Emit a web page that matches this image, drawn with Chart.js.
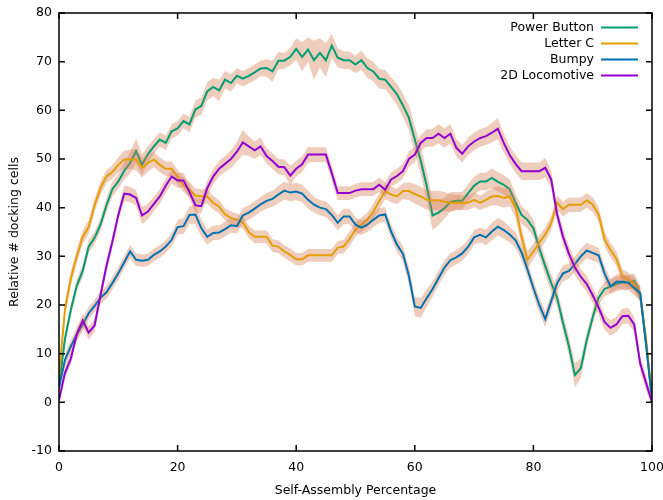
<!DOCTYPE html>
<html>
<head>
<meta charset="utf-8">
<script src="https://cdn.jsdelivr.net/npm/chart.js@4"></script>
<style>
  html, body { margin: 0; padding: 0; background: #fff; }
  #wrap { width: 663px; height: 500px; position: relative; }
</style>
</head>
<body>
<div id="wrap"><canvas id="chart"></canvas></div>
<script>
// x positions (self-assembly percentage)
const percent = [
  0, 1, 2, 3, 4, 5, 6, 7, 8, 9, 10, 11, 12, 13, 14, 15, 16, 17, 18, 19,
  20, 21, 22, 23, 24, 25, 26, 27, 28, 29, 30, 31, 32, 33, 34, 35, 36, 37, 38, 39,
  40, 41, 42, 43, 44, 45, 46, 47, 48, 49, 50, 51, 52, 53, 54, 55, 56, 57, 58, 59,
  60, 61, 62, 63, 64, 65, 66, 67, 68, 69, 70, 71, 72, 73, 74, 75, 76, 77, 78, 79,
  80, 81, 82, 83, 84, 85, 86, 87, 88, 89, 90, 91, 92, 93, 94, 95, 96, 97, 98, 99, 100
];

const powerButton = [
  3.5, 13, 19, 24, 27, 32, 33.8, 36.5, 40.5, 43.8,
  45.4, 47.6, 49.2, 51.6, 48.8, 51, 52.6, 54, 53.3, 55.7,
  56.3, 57.8, 57.1, 60.2, 60.9, 63.9, 64.8, 64.1, 66.3, 65.6,
  67.1, 66.5, 67.1, 67.8, 68.6, 68.7, 68, 70.2, 70.2, 71,
  72.6, 71, 72.5, 70.3, 71.8, 70.3, 73.3, 70.8, 70.3, 70.3,
  69.4, 70.3, 68.7, 68, 66.5, 66.3, 64.8, 63.3, 61, 58.5,
  54, 49.7, 44.5, 38.4, 39, 39.9, 41.2, 41.4, 41.4, 43,
  44.5, 45.4, 45.4, 46.1, 45.3, 44.7, 43.8, 41, 38.5, 37.5,
  35.8, 31.6, 28, 24.5, 21.5, 16.3, 11.5, 5.6, 7, 12.8,
  17.5, 21.5, 23.3, 23.8, 24.3, 24.6, 24.6, 25, 22.4, 12, 0.5
];
const powerButtonErr = [
  1.2, 1.3, 1.3, 1.3, 1.3, 1.3, 1.3, 1.3, 1.5, 1.5,
  1.5, 1.8, 2.2, 2.6, 2.2, 1.6, 1.5, 1.5, 1.5, 1.5,
  1.5, 1.5, 1.6, 1.8, 1.8, 1.9, 1.9, 2.2, 1.8, 1.8,
  1.6, 1.6, 1.6, 1.6, 1.6, 1.8, 2.2, 1.8, 1.6, 1.8,
  2.2, 3, 2.5, 4, 3, 3.5, 2.5, 2, 1.8, 1.8,
  1.8, 2, 2, 2, 2, 2, 2, 2.2, 2.4, 2.6,
  2.8, 3, 3, 3, 2.6, 2.2, 2, 1.8, 1.8, 1.8,
  1.8, 1.8, 1.8, 2, 2, 2, 2, 1.8, 1.8, 1.8,
  1.8, 1.8, 1.8, 1.8, 1.8, 1.8, 2, 2.5, 2, 1.6,
  1.5, 1.5, 1.5, 1.5, 1.5, 1.5, 1.5, 1.5, 1.5, 1.5, 1
];

const letterC = [
  5.5, 19, 25.5, 30, 34, 36, 40.5, 44, 46.4, 47.3,
  48.8, 49.9, 49.9, 49.9, 48.2, 49.2, 49.9, 48.8, 48, 48,
  46.3, 44.7, 43.7, 42.5, 42.3, 42.3, 41, 40.2, 38.6, 37.9,
  37.5, 37, 35, 34, 34, 34, 32.2, 32, 31, 30.3,
  29.4, 29.4, 30.2, 30.2, 30.2, 30.2, 30.2, 31.8, 32, 33.6,
  35.5, 36.5, 37.5, 39.2, 41.3, 43.4, 42.7, 42.3, 43.4, 43.4,
  42.8, 42.3, 41.6, 41.5, 41.5, 41.2, 41, 41, 41, 41,
  41.6, 41, 41.6, 42.3, 42.4, 42, 42.3, 40, 34, 29.3,
  31, 32.8, 34.5, 36.8, 41, 39.7, 40.6, 40.6, 40.6, 41.5,
  40.6, 38.6, 33.5, 31.3, 29.5, 25.9, 25.2, 24.2, 22, 13, 1
];
const letterCErr = [
  1.5, 1.5, 1.5, 1.4, 1.4, 1.4, 1.4, 1.4, 1.4, 1.4,
  1.5, 1.8, 2, 2.2, 2, 1.8, 1.6, 1.5, 1.5, 1.5,
  1.5, 1.5, 1.5, 1.5, 1.5, 1.5, 1.4, 1.4, 1.3, 1.3,
  1.3, 1.3, 1.3, 1.3, 1.3, 1.3, 1.3, 1.3, 1.3, 1.3,
  1.3, 1.3, 1.3, 1.3, 1.3, 1.3, 1.3, 1.3, 1.4, 1.5,
  1.5, 1.5, 1.5, 1.6, 1.6, 1.6, 1.6, 1.6, 1.6, 1.8,
  2, 2, 2, 2, 2, 2, 1.8, 1.6, 1.5, 1.5,
  1.5, 1.5, 1.6, 1.8, 2, 2, 2, 2, 1.8, 1.8,
  1.6, 1.5, 1.5, 1.5, 1.5, 1.5, 1.5, 1.5, 1.5, 1.5,
  1.5, 1.5, 1.5, 1.5, 1.5, 1.5, 1.5, 1.5, 1.5, 1.5, 1
];

const bumpy = [
  3, 8.7, 11.5, 14, 16, 18.3, 19.8, 21.5, 22.6, 24.5,
  26.5, 28.8, 31, 29.3, 29.1, 29.3, 30.3, 31, 32, 33.4,
  36, 36.2, 38.5, 38.6, 35.8, 34, 34.8, 34.9, 35.6, 36.4,
  36.2, 38.4, 39, 39.8, 40.7, 41.4, 41.8, 42.7, 43.5, 43.1,
  43.3, 42.9, 41.6, 40.6, 40, 39.7, 38.5, 36.9, 38.2, 38.2,
  36.5, 35.9, 36.5, 37.5, 38.4, 38.6, 35.1, 32.4, 30.5, 26,
  19.7, 19.4, 21.4, 23.3, 25.5, 27.7, 29.2, 29.8, 30.6, 32,
  33.9, 34.4, 33.9, 35.1, 36.1, 35.4, 34.5, 33.3, 30.8, 27.3,
  23.5, 20, 17.1, 20.8, 24.5, 26.5, 27, 28.4, 30, 31.2,
  30.7, 30.2, 26.5, 23.8, 24.8, 24.8, 24.6, 23.5, 22.4, 12, 0.5
];
const bumpyErr = [
  1.3, 1.3, 1.3, 1.3, 1.3, 1.3, 1.3, 1.3, 1.3, 1.3,
  1.3, 1.3, 1.4, 1.3, 1.3, 1.3, 1.3, 1.3, 1.3, 1.4,
  1.5, 1.6, 1.8, 2, 1.8, 1.6, 1.5, 1.5, 1.5, 1.5,
  1.5, 1.5, 1.5, 1.5, 1.5, 1.6, 1.6, 1.8, 1.8, 1.8,
  1.8, 1.8, 1.8, 1.6, 1.6, 1.6, 1.6, 1.6, 1.6, 1.6,
  1.5, 1.5, 1.5, 1.5, 1.5, 1.5, 1.5, 1.5, 1.6, 1.8,
  2, 2, 1.8, 1.6, 1.5, 1.5, 1.5, 1.5, 1.5, 1.5,
  1.5, 1.5, 1.6, 1.8, 1.8, 1.8, 1.6, 1.6, 1.6, 1.6,
  1.6, 1.6, 1.6, 1.6, 1.6, 1.6, 1.6, 1.6, 1.6, 1.6,
  1.6, 1.5, 1.5, 1.5, 1.5, 1.5, 1.5, 1.5, 1.5, 1.5, 1
];

const locomotive = [
  0.5, 6, 9, 14, 16.8, 14.3, 15.8, 22, 28, 33,
  38.5, 42.9, 42.7, 42, 38.4, 39.2, 40.8, 42.3, 44.5, 46.4,
  45.6, 45.6, 43.2, 40.5, 40.3, 44, 46.4, 48, 49, 50,
  51.5, 53.4, 52.6, 51.8, 52.6, 50.6, 49.6, 48.4, 48.3, 46.6,
  48, 48.9, 50.9, 50.9, 50.9, 50.9, 47.1, 43, 43, 43,
  43.5, 43.8, 43.8, 43.8, 44.7, 43.7, 45.8, 46.5, 47.5, 50,
  50.9, 53.3, 54.3, 54.3, 55.2, 54.3, 55.2, 52.3, 51.1, 52.6,
  53.6, 54.3, 54.7, 55.4, 56.2, 53.3, 50.8, 49, 47.5, 47.5,
  47.5, 47.5, 48.2, 45.8, 38.6, 34, 30.5, 27.7, 25.8, 24.3,
  22, 19.5, 16.5, 15.3, 16, 17.7, 17.8, 16, 8, 4, 0
];
const locomotiveErr = [
  1, 1.2, 1.2, 1.3, 1.4, 1.4, 1.4, 1.3, 1.3, 1.3,
  1.3, 1.6, 1.6, 1.6, 1.8, 1.6, 1.5, 1.5, 1.5, 1.5,
  1.5, 1.5, 1.5, 1.5, 1.5, 1.6, 1.6, 1.6, 1.6, 1.8,
  2, 2.6, 2, 1.8, 1.8, 1.6, 1.6, 1.6, 1.6, 2,
  1.6, 1.6, 1.6, 1.5, 1.5, 1.5, 1.5, 1.4, 1.4, 1.4,
  1.4, 1.4, 1.4, 1.4, 1.5, 1.5, 1.5, 1.5, 1.5, 1.6,
  1.6, 1.6, 1.8, 1.8, 2, 2, 2, 1.8, 1.8, 1.8,
  1.8, 1.8, 1.8, 2, 2.2, 2, 1.8, 1.8, 1.8, 1.8,
  1.8, 1.8, 2, 1.8, 1.6, 1.6, 1.6, 1.6, 1.6, 1.6,
  1.6, 1.6, 1.6, 1.6, 1.6, 1.6, 1.6, 1.6, 1.6, 1.5, 1
];

const xTicks = [0, 20, 40, 60, 80, 100];
const yTicks = [-10, 0, 10, 20, 30, 40, 50, 60, 70, 80];

const FONT = "'DejaVu Sans', sans-serif";
const BAND = 'rgba(214, 130, 90, 0.4)';

const series = [
  { label: 'Power Button', values: powerButton, errors: powerButtonErr, color: '#009e73' },
  { label: 'Letter C', values: letterC, errors: letterCErr, color: '#e69f00' },
  { label: 'Bumpy', values: bumpy, errors: bumpyErr, color: '#0072b2' },
  { label: '2D Locomotive', values: locomotive, errors: locomotiveErr, color: '#9400d3' },
];

function points(values, offsets, sign) {
  return percent.map((p, i) => ({ x: p, y: values[i] + sign * (offsets ? offsets[i] : 0) }));
}

// each series: band (upper filled down to lower), then its line on top.
// lower `order` is drawn later, so the first series sits at the bottom.
const datasets = [];
series.forEach((s, i) => {
  const base = 100 - i * 3;
  datasets.push({
    label: s.label + ' band',
    data: points(s.values, s.errors, 1),
    borderWidth: 0,
    pointRadius: 0,
    backgroundColor: BAND,
    fill: '+1',
    order: base,
  });
  datasets.push({
    label: s.label + ' low',
    data: points(s.values, s.errors, -1),
    borderWidth: 0,
    pointRadius: 0,
    fill: false,
    order: base,
  });
  datasets.push({
    label: s.label,
    data: points(s.values, null, 0),
    borderColor: s.color,
    borderWidth: 2,
    pointRadius: 0,
    fill: false,
    tension: 0,
    order: base - 1,
  });
});

// gnuplot-style box with inward ticks on all sides
const frameTicks = {
  id: 'frameTicks',
  afterDraw(chart) {
    const { ctx, chartArea: a, scales: { x, y } } = chart;
    ctx.save();
    ctx.strokeStyle = '#000';
    ctx.lineWidth = 1.5;
    ctx.beginPath();
    xTicks.forEach((v) => {
      const px = x.getPixelForValue(v);
      ctx.moveTo(px, a.bottom); ctx.lineTo(px, a.bottom - 6);
      ctx.moveTo(px, a.top); ctx.lineTo(px, a.top + 6);
    });
    yTicks.forEach((v) => {
      const py = y.getPixelForValue(v);
      ctx.moveTo(a.left, py); ctx.lineTo(a.left + 6, py);
      ctx.moveTo(a.right, py); ctx.lineTo(a.right - 6, py);
    });
    ctx.stroke();
    ctx.strokeRect(a.left, a.top, a.right - a.left, a.bottom - a.top);
    ctx.restore();
  },
};

// key in the top-right corner: label right-aligned, sample line after it
const keyBox = {
  id: 'keyBox',
  afterDraw(chart) {
    const { ctx, chartArea: a } = chart;
    const lineEnd = a.right - 14;
    const lineStart = lineEnd - 37;
    const textRight = lineStart - 7;
    ctx.save();
    ctx.font = '12.5px ' + FONT;
    ctx.textAlign = 'right';
    ctx.textBaseline = 'middle';
    series.forEach((s, i) => {
      const yy = a.top + 14.5 + i * 16;
      ctx.fillStyle = '#000';
      ctx.fillText(s.label, textRight, yy);
      ctx.strokeStyle = s.color;
      ctx.lineWidth = 2;
      ctx.beginPath();
      ctx.moveTo(lineStart, yy);
      ctx.lineTo(lineEnd, yy);
      ctx.stroke();
    });
    ctx.restore();
  },
};

new Chart(document.getElementById('chart'), {
  type: 'line',
  data: { datasets },
  plugins: [frameTicks, keyBox],
  options: {
    responsive: true,
    maintainAspectRatio: false,
    animation: false,
    layout: { padding: { top: 13, right: 11, left: 0, bottom: 0 } },
    plugins: {
      legend: { display: false },
      tooltip: { enabled: false },
      filler: { propagate: false },
    },
    scales: {
      x: {
        type: 'linear',
        min: 0,
        max: 100,
        afterFit(scale) {
          scale.height = 49;
          // let the "100" label hang off the edge like the original
          scale.paddingLeft = 0;
          scale.paddingRight = 0;
        },
        afterBuildTicks(scale) { scale.ticks = xTicks.map((v) => ({ value: v })); },
        grid: { display: false, drawTicks: false },
        border: { display: false },
        ticks: {
          color: '#000',
          font: { family: FONT, size: 12.5 },
          padding: 9,
          maxRotation: 0,
          autoSkip: false,
        },
        title: {
          display: true,
          text: 'Self-Assembly Percentage',
          color: '#000',
          font: { family: FONT, size: 12.5 },
          padding: { top: 0, bottom: 2 },
        },
      },
      y: {
        type: 'linear',
        min: -10,
        max: 80,
        afterFit(scale) {
          scale.width = 59;
          scale.paddingTop = 0;
          scale.paddingBottom = 0;
        },
        afterBuildTicks(scale) { scale.ticks = yTicks.map((v) => ({ value: v })); },
        grid: { display: false, drawTicks: false },
        border: { display: false },
        ticks: {
          color: '#000',
          font: { family: FONT, size: 12.5 },
          padding: 7,
        },
        title: {
          display: true,
          text: 'Relative # docking cells',
          color: '#000',
          font: { family: FONT, size: 12.5 },
          padding: { top: 7, bottom: 0 },
        },
      },
    },
  },
});
</script>
</body>
</html>
